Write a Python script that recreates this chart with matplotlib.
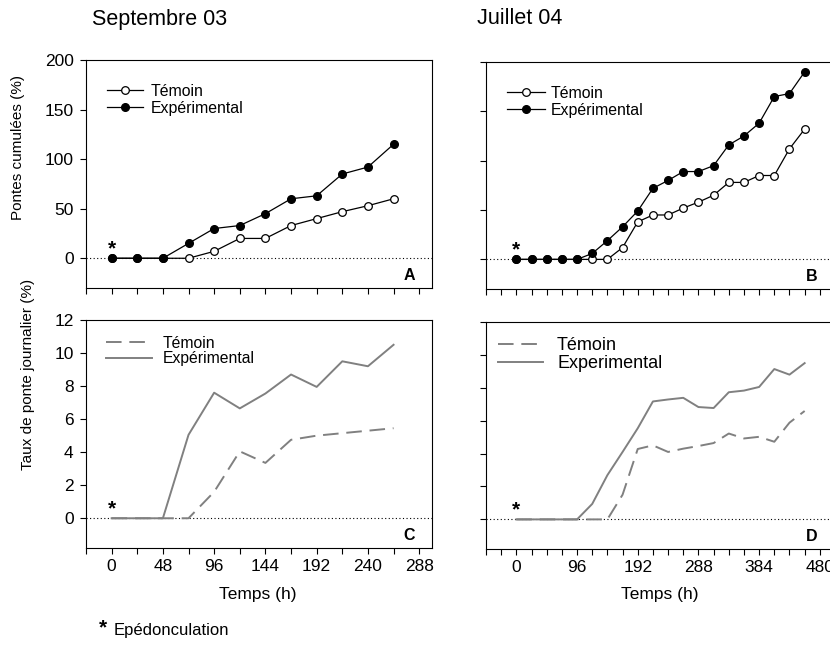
import matplotlib
matplotlib.use("Agg")
import matplotlib.pyplot as plt
from matplotlib.ticker import MultipleLocator, NullFormatter

plt.rcParams['font.family'] = ['Liberation Sans', 'DejaVu Sans']
plt.rcParams['font.size'] = 12

# --- data ---
t_sep = [0, 24, 48, 72, 96, 120, 144, 168, 192, 216, 240, 264]
t_jul = [0, 24, 48, 72, 96, 120, 144, 168, 192, 216, 240, 264, 288, 312,
         336, 360, 384, 408, 432, 456]

cum_sep_temoin = [0, 0, 0, 0, 7, 20, 20, 33, 40, 47, 53, 60]
cum_sep_exp = [0, 0, 0, 15, 30, 33, 45, 60, 63, 85, 92, 115]

cum_jul_temoin = [0, 0, 0, 0, 0, 0, 0, 12, 38, 45, 45, 52, 58, 65, 78, 78,
                  85, 85, 112, 132]
cum_jul_exp = [0, 0, 0, 0, 0, 6, 19, 33, 49, 72, 80, 89, 89, 95, 116, 125,
               138, 165, 168, 190]

taux_sep_temoin = [0, 0, 0, 0, 1.6, 4.05, 3.35, 4.75, 5.0, 5.15, 5.3, 5.45]
taux_sep_exp = [0, 0, 0, 5.05, 7.6, 6.65, 7.55, 8.7, 7.95, 9.5, 9.2, 10.5]

taux_jul_temoin = [0, 0, 0, 0, 0, 0, 0, 1.5, 4.28, 4.5, 4.1, 4.3, 4.46,
                   4.64, 5.22, 4.92, 5.02, 4.72, 5.88, 6.59]
taux_jul_exp = [0, 0, 0, 0, 0, 0.94, 2.69, 4.1, 5.54, 7.17, 7.29, 7.39,
                6.83, 6.77, 7.73, 7.83, 8.05, 9.14, 8.8, 9.5]

W, H = 830, 648
fig = plt.figure(figsize=(W / 100, H / 100), dpi=100)


def box(l, r, t, b):
    return [l / W, 1 - b / H, (r - l) / W, (b - t) / H]


axA = fig.add_axes(box(86, 432, 60, 288))
axB = fig.add_axes(box(486, 835, 62, 289))
axC = fig.add_axes(box(86, 432, 320, 548))
axD = fig.add_axes(box(486, 835, 322, 549))

gray = '#808080'
tick_fs = 12.5

for ax in (axA, axB, axC, axD):
    ax.axhline(0, color='black', lw=0.8, linestyle=(0, (1, 2.2)), zorder=1)
    ax.tick_params(which='both', direction='out', length=4, width=0.8,
                   labelsize=tick_fs)
    ax.tick_params(axis='y', pad=5)
    ax.tick_params(axis='x', pad=4)
    for s in ax.spines.values():
        s.set_linewidth(0.8)
    ax.annotate('*', (0, 0), xytext=(0, 0), textcoords='offset points',
                ha='center', va='bottom', fontsize=15, fontweight='bold')

# cumulated panels
for ax, t, te, ex, xl, step, letter, hl, tp in (
        (axA, t_sep, cum_sep_temoin, cum_sep_exp, (-24, 300), 48, 'A',
         2.3, 0.45),
        (axB, t_jul, cum_jul_temoin, cum_jul_exp, (-48, 504), 96, 'B',
         2.4, 0.35)):
    ax.plot(t, te, '-o', color='black', lw=0.9, ms=5.5, mfc='white',
            mec='black', mew=0.9, label='Témoin', zorder=3)
    ax.plot(t, ex, '-o', color='black', lw=0.9, ms=5.5, mfc='black',
            mec='black', label='Expérimental', zorder=4)
    ax.set_xlim(*xl)
    ax.set_ylim(-30, 200)
    ax.xaxis.set_major_locator(MultipleLocator(step))
    ax.xaxis.set_minor_locator(MultipleLocator(24))
    ax.yaxis.set_major_locator(MultipleLocator(50))
    ax.xaxis.set_major_formatter(NullFormatter())
    ax.legend(loc='upper left', bbox_to_anchor=(0.06, 0.895), frameon=False,
              fontsize=11.4, handlelength=hl, handletextpad=tp,
              labelspacing=0.12, borderpad=0, borderaxespad=0)
    ax.text(0.934, 0.055, letter, transform=ax.transAxes, ha='center',
            va='center', fontsize=11.5, fontweight='bold')

axB.yaxis.set_major_formatter(NullFormatter())

# daily rate panels
for ax, t, te, ex, xl, step, letter, lab, fs, x0, hl, tp in (
        (axC, t_sep, taux_sep_temoin, taux_sep_exp, (-24, 300), 48, 'C',
         'Expérimental', 11.3, 0.058, 2.9, 0.7),
        (axD, t_jul, taux_jul_temoin, taux_jul_exp, (-48, 504), 96, 'D',
         'Experimental', 13, 0.034, 2.5, 0.78)):
    ax.plot(t, te, color=gray, lw=1.4, dashes=(8, 4), label='Témoin',
            zorder=3)
    ax.plot(t, ex, color=gray, lw=1.4, label=lab, zorder=4)
    ax.set_xlim(*xl)
    ax.set_ylim(-1.8, 12)
    ax.xaxis.set_major_locator(MultipleLocator(step))
    ax.xaxis.set_minor_locator(MultipleLocator(24))
    ax.yaxis.set_major_locator(MultipleLocator(2))
    ax.legend(loc='upper left', bbox_to_anchor=(x0, 0.932), frameon=False,
              fontsize=fs, handlelength=hl, handletextpad=tp,
              labelspacing=0.05, borderpad=0, borderaxespad=0)
    ax.text(0.934, 0.055, letter, transform=ax.transAxes, ha='center',
            va='center', fontsize=11.5, fontweight='bold')

axD.yaxis.set_major_formatter(NullFormatter())

fig.text(258 / W, 1 - 594 / H, 'Temps (h)', ha='center', va='center',
         fontsize=12.5)
fig.text(660 / W, 1 - 594 / H, 'Temps (h)', ha='center', va='center',
         fontsize=12.5)

fig.text(18 / W, 1 - 148 / H, 'Pontes cumulées (%)', rotation=90,
         ha='center', va='center', fontsize=11)
fig.text(28 / W, 1 - 374 / H, 'Taux de ponte journalier (%)', rotation=90,
         ha='center', va='center', fontsize=11)

fig.text(160 / W, 1 - 19 / H, 'Septembre 03', ha='center', va='center',
         fontsize=15.5)
fig.text(520 / W, 1 - 18 / H, 'Juillet 04', ha='center', va='center',
         fontsize=15.5)

fig.text(103 / W, 1 - 628 / H, '*', ha='center', va='center', fontsize=15,
         fontweight='bold')
fig.text(114 / W, 1 - 630 / H, 'Epédonculation', ha='left', va='center',
         fontsize=12)

fig.savefig('out.png', dpi=100)
